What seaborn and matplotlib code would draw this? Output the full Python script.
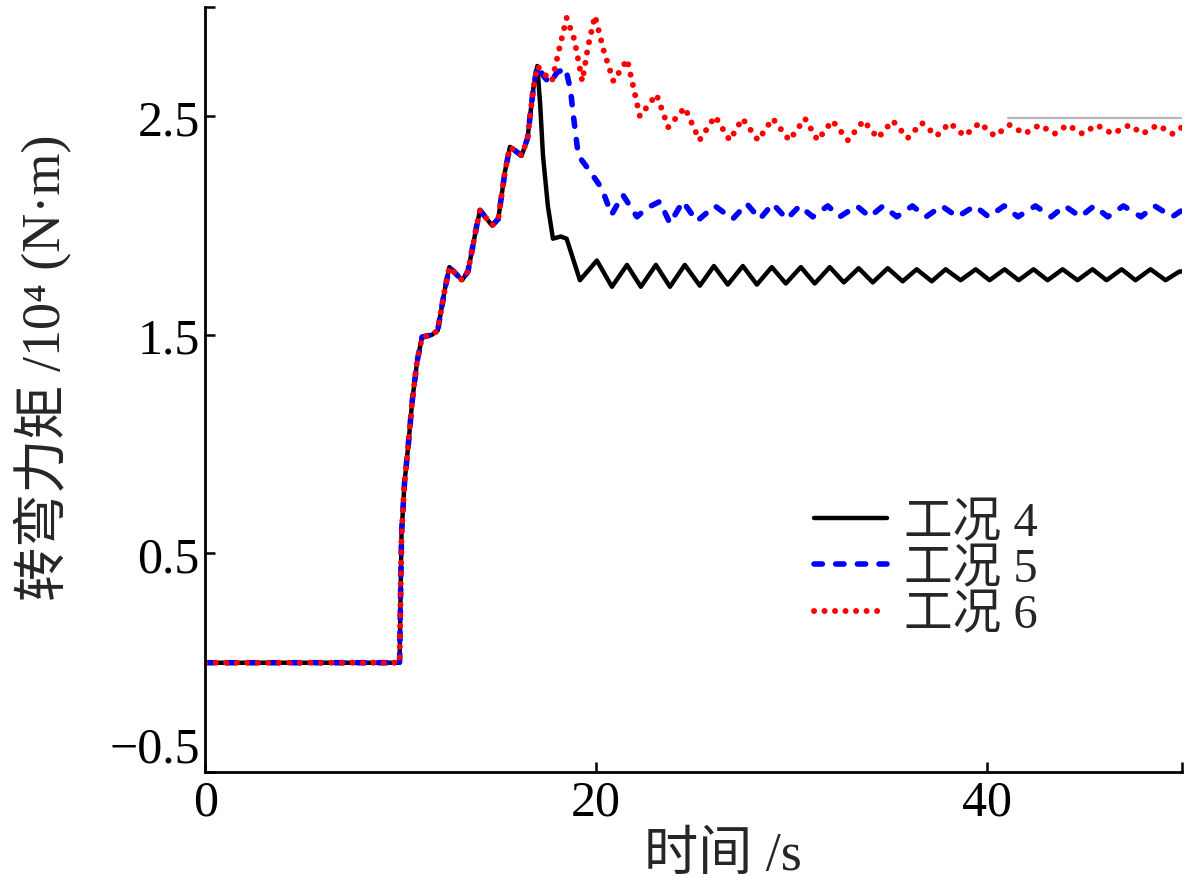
import numpy as np
import pandas as pd
import matplotlib
matplotlib.use("Agg")
import matplotlib.pyplot as plt
import seaborn as sns

sns.set_style("white")
plt.rcParams['font.family'] = ['Liberation Serif', 'Noto Sans CJK SC', 'DejaVu Sans']
plt.rcParams['axes.unicode_minus'] = True

# common rising part (all three cases)
t_rise = [0, 9.95, 10.0, 10.05, 10.2, 10.4, 10.6, 10.85, 11.1, 11.6, 11.9, 12.25, 12.5,
          13.15, 13.45, 13.9, 14.07, 14.68, 15.0, 15.35, 15.6, 16.2, 16.5, 16.8, 17.0]
y_rise = [0, 0, 0.30, 0.59, 0.82, 1.00, 1.20, 1.38, 1.49, 1.50, 1.52, 1.70, 1.81,
          1.75, 1.79, 2.00, 2.07, 2.00, 2.03, 2.25, 2.36, 2.32, 2.40, 2.63, 2.73]

# case 4 (black)
t4 = [17.15, 17.29, 17.54, 17.8, 18.2, 18.5, 19.18, 20.05, 20.82, 21.59, 22.30, 23.07,
      23.79, 24.55, 25.32, 26.04, 26.75, 27.52, 28.24, 29.00, 29.72, 30.49, 31.20, 31.97,
      32.69, 33.45, 34.17, 34.94, 35.70, 36.42, 37.19, 37.90, 38.67, 39.44, 40.15, 40.92,
      41.64, 42.40, 43.12, 43.89, 44.65, 45.42, 46.14, 46.91, 47.62, 48.39, 49.16, 49.87, 50.0]
y4 = [2.55, 2.32, 2.09, 1.94, 1.95, 1.94, 1.75, 1.84, 1.72, 1.82, 1.72, 1.82,
      1.72, 1.82, 1.725, 1.815, 1.73, 1.815, 1.73, 1.81, 1.735, 1.81, 1.735, 1.81,
      1.74, 1.805, 1.74, 1.805, 1.745, 1.80, 1.745, 1.80, 1.75, 1.80, 1.75, 1.80,
      1.75, 1.80, 1.75, 1.80, 1.75, 1.80, 1.75, 1.80, 1.75, 1.80, 1.75, 1.79, 1.79]

# case 5 (blue)
t5 = [17.35, 17.65, 18.0, 18.45, 18.7, 18.85, 19.1, 19.6, 20.3, 20.8, 21.38, 22.1, 22.6,
      23.27, 23.79, 24.45, 25.17, 26.09, 27.0, 27.72, 28.39, 29.05, 29.77, 30.43, 31.1,
      31.87, 32.48, 33.35, 34.02, 34.7, 35.4, 36.2, 36.9, 37.7, 38.5, 39.4, 40.1, 40.9,
      41.6, 42.5, 43.3, 44.0, 44.8, 45.5, 46.2, 47.0, 47.9, 48.6, 49.5, 50.0]
y5 = [2.68, 2.65, 2.70, 2.72, 2.62, 2.50, 2.32, 2.26, 2.17, 2.05, 2.14, 2.04, 2.08,
      2.11, 2.01, 2.11, 2.02, 2.09, 2.03, 2.10, 2.03, 2.10, 2.03, 2.09, 2.04,
      2.09, 2.04, 2.09, 2.04, 2.09, 2.04, 2.09, 2.04, 2.09, 2.04, 2.09, 2.04, 2.09,
      2.04, 2.09, 2.04, 2.09, 2.04, 2.09, 2.04, 2.09, 2.04, 2.09, 2.04, 2.07]

# case 6 (red)
t6 = [17.4, 17.75, 18.1, 18.5, 18.9, 19.3, 19.6, 19.95, 20.4, 20.9, 21.6, 22.25, 23.1,
      23.7, 24.55, 25.3, 26.1, 26.85, 27.5, 28.3, 29.05, 29.9, 30.7, 31.35, 32.1, 32.9,
      33.7, 34.43, 35.19, 35.96, 36.68, 37.44, 38.11, 38.87, 39.64, 40.41, 41.18, 41.94,
      42.71, 43.48, 44.14, 44.91, 45.63, 46.44, 47.31, 47.98, 48.75, 49.51, 50.0]
y6 = [2.69, 2.66, 2.80, 2.95, 2.85, 2.66, 2.82, 2.96, 2.80, 2.66, 2.76, 2.50, 2.60,
      2.45, 2.54, 2.39, 2.50, 2.39, 2.49, 2.39, 2.49, 2.39, 2.49, 2.39, 2.48, 2.39,
      2.48, 2.40, 2.48, 2.40, 2.47, 2.41, 2.47, 2.41, 2.47, 2.41, 2.46, 2.42,
      2.46, 2.42, 2.46, 2.42, 2.46, 2.42, 2.46, 2.42, 2.46, 2.42, 2.45]

# thin grey reference segment
t_ref = [41.1, 50.0]
y_ref = [2.49, 2.49]

labels = ['工况 4', '工况 5', '工况 6']
xticks = [0, 20, 40]
yticks = [-0.5, 0.5, 1.5, 2.5]

fig = plt.figure(figsize=(12, 8.87), dpi=100)
ax = fig.add_axes([0.171, 0.1285, 0.814, 0.8625])

series = [(t_rise + t4, y_rise + y4, 'black', '-', 3.2),
          (t_rise + t5, y_rise + y5, 'blue', (0, (1.5, 2.4)), 4.0),
          (t_rise + t6, y_rise + y6, 'red', (0, (0.01, 1.75)), 4.3)]
for (tt, yy, c, ls, lw), lab in zip(series, labels):
    df = pd.DataFrame({'t': tt, 'y': yy})
    sns.lineplot(data=df, x='t', y='y', ax=ax, color=c, linestyle=ls, lw=lw,
                 estimator=None, sort=False, label=lab,
                 dash_capstyle='round', solid_capstyle='round')

ax.plot(t_ref, y_ref, color='#b8b8b8', lw=1.6, zorder=1)

ax.set_xlim(0, 50)
ax.set_ylim(-0.5, 3.0)
ax.set_xticks(xticks)
ax.set_yticks(yticks)
ax.set_xticklabels([str(v) for v in xticks])
ax.set_yticklabels(['−0.5', '0.5', '1.5', '2.5'])
ax.set_xticks([50], minor=True)
ax.set_yticks([3.0], minor=True)

for s in ['top', 'right']:
    ax.spines[s].set_visible(False)
for s in ['left', 'bottom']:
    ax.spines[s].set_linewidth(2.0)
    ax.spines[s].set_color('black')

ax.tick_params(axis='both', which='both', direction='in', length=7, width=1.8,
               labelsize=36, colors='black', pad=5, bottom=True, left=True)
ax.tick_params(axis='y', pad=4)
ylabs = ax.get_yticklabels()
ylabs[0].set_verticalalignment('bottom')

ax.set_xlabel('时间 /s', fontsize=39)
ax.set_ylabel('转弯力矩 /10⁴ (N·m)', fontsize=39)
ax.xaxis.set_label_coords(0.53, -0.076)
ax.yaxis.set_label_coords(-0.136, 0.53)

leg = ax.legend(loc='upper left', bbox_to_anchor=(0.603, 0.38), frameon=False,
                fontsize=35, handlelength=1.5, handletextpad=0.35, labelspacing=0.05,
                borderaxespad=0)

fig.savefig('out.png', dpi=100)
